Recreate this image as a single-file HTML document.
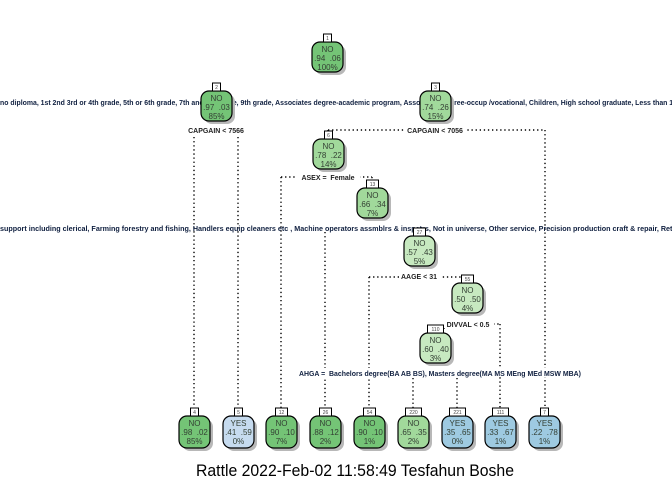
<!DOCTYPE html>
<html><head><meta charset="utf-8"><style>
html,body{margin:0;padding:0;background:#fff;}
svg{display:block;}
.n{font-family:"Liberation Sans",sans-serif;font-size:8px;fill:#333f33;text-anchor:middle;}
.t{font-family:"Liberation Sans",sans-serif;font-size:5px;fill:#444;text-anchor:middle;}
.s{font-family:"Liberation Sans",sans-serif;font-size:7px;font-weight:bold;fill:#102040;text-anchor:middle;}
.c{stroke:#000;stroke-width:1.4;stroke-dasharray:1.3,2.8;fill:none;}
.sh{fill:#b8b8b8;}
.b{stroke:#000;stroke-width:1.2;}
.tg{fill:#fff;stroke:#000;stroke-width:1;}
</style></head><body>
<svg width="672" height="480" viewBox="0 0 672 480" xmlns="http://www.w3.org/2000/svg">
<path class="c" d="M194 137V408 M238 137V408"/>
<path class="c" d="M328 130H545 M328 130V134 M545 130V408"/>
<path class="c" d="M281 177H372 M281 177V408 M372 177V181"/>
<path class="c" d="M325 232V408"/>
<path class="c" d="M369 277H468 M369 277V408 M468 277V279"/>
<path class="c" d="M444 324H500 M444 324V329 M500 324V408"/>
<path class="c" d="M413 378V408 M457 378V408"/>

<text class="s" x="0" y="105" style="text-anchor:start" textLength="700" lengthAdjust="spacingAndGlyphs">no diploma, 1st 2nd 3rd or 4th grade, 5th or 6th grade, 7th and 8th grade, 9th grade, Associates degree-academic program, Associates degree-occup /vocational, Children, High school graduate, Less than 1st grade</text>
<text class="s" x="216" y="133" style="fill:#222">CAPGAIN &lt; 7566</text>
<rect x="404" y="126" width="62" height="8" fill="#fff"/>
<text class="s" x="435" y="133" style="fill:#222">CAPGAIN &lt; 7056</text>
<rect x="296" y="173" width="64" height="8" fill="#fff"/>
<text class="s" x="328" y="180" style="fill:#222">ASEX =&#160; Female</text>
<text class="s" x="0" y="231" style="text-anchor:start" textLength="700" lengthAdjust="spacingAndGlyphs">support including clerical, Farming forestry and fishing, Handlers equip cleaners etc , Machine operators assmblrs &amp; inspctrs, Not in universe, Other service, Precision production craft &amp; repair, Retail trade</text>
<rect x="399" y="272" width="42" height="8" fill="#fff"/>
<text class="s" x="419" y="279" style="fill:#222">AAGE &lt; 31</text>
<rect x="442" y="320" width="52" height="8" fill="#fff"/>
<text class="s" x="468" y="327" style="fill:#222">DIVVAL &lt; 0.5</text>
<rect x="296" y="368" width="286" height="9" fill="#fff"/>
<text class="s" x="440" y="376" textLength="282" lengthAdjust="spacingAndGlyphs">AHGA =&#160; Bachelors degree(BA AB BS), Masters degree(MA MS MEng MEd MSW MBA)</text>

<g transform="translate(327,42)"><rect class="sh" x="-12" y="3" width="31" height="30" rx="8"/><rect class="b" x="-15" y="0" width="31" height="30" rx="8" fill="#74c476"/><rect class="tg" x="-3.5" y="-8" width="8" height="8"/><text class="t" x="0.5" y="-2">1</text><text class="n" x="0.5" y="10">NO</text><text class="n" x="0.5" y="19">.94&#160;&#160;.06</text><text class="n" x="0.5" y="28">100%</text></g>
<g transform="translate(216,91)"><rect class="sh" x="-12" y="3" width="31" height="30" rx="8"/><rect class="b" x="-15" y="0" width="31" height="30" rx="8" fill="#74c476"/><rect class="tg" x="-3.5" y="-8" width="8" height="8"/><text class="t" x="0.5" y="-2">2</text><text class="n" x="0.5" y="10">NO</text><text class="n" x="0.5" y="19">.97&#160;&#160;.03</text><text class="n" x="0.5" y="28">85%</text></g>
<g transform="translate(435,91)"><rect class="sh" x="-12" y="3" width="31" height="30" rx="8"/><rect class="b" x="-15" y="0" width="31" height="30" rx="8" fill="#a1d99b"/><rect class="tg" x="-3.5" y="-8" width="8" height="8"/><text class="t" x="0.5" y="-2">3</text><text class="n" x="0.5" y="10">NO</text><text class="n" x="0.5" y="19">.74&#160;&#160;.26</text><text class="n" x="0.5" y="28">15%</text></g>
<g transform="translate(328,139)"><rect class="sh" x="-12" y="3" width="31" height="30" rx="8"/><rect class="b" x="-15" y="0" width="31" height="30" rx="8" fill="#a1d99b"/><rect class="tg" x="-3.5" y="-8" width="8" height="8"/><text class="t" x="0.5" y="-2">6</text><text class="n" x="0.5" y="10">NO</text><text class="n" x="0.5" y="19">.78&#160;&#160;.22</text><text class="n" x="0.5" y="28">14%</text></g>
<g transform="translate(372,188)"><rect class="sh" x="-12" y="3" width="31" height="30" rx="8"/><rect class="b" x="-15" y="0" width="31" height="30" rx="8" fill="#a1d99b"/><rect class="tg" x="-5.5" y="-8" width="12" height="8"/><text class="t" x="0.5" y="-2">13</text><text class="n" x="0.5" y="10">NO</text><text class="n" x="0.5" y="19">.66&#160;&#160;.34</text><text class="n" x="0.5" y="28">7%</text></g>
<g transform="translate(419,236)"><rect class="sh" x="-12" y="3" width="31" height="30" rx="8"/><rect class="b" x="-15" y="0" width="31" height="30" rx="8" fill="#c7e9c0"/><rect class="tg" x="-5.5" y="-8" width="12" height="8"/><text class="t" x="0.5" y="-2">27</text><text class="n" x="0.5" y="10">NO</text><text class="n" x="0.5" y="19">.57&#160;&#160;.43</text><text class="n" x="0.5" y="28">5%</text></g>
<g transform="translate(467,283)"><rect class="sh" x="-12" y="3" width="31" height="30" rx="8"/><rect class="b" x="-15" y="0" width="31" height="30" rx="8" fill="#c7e9c0"/><rect class="tg" x="-5.5" y="-8" width="12" height="8"/><text class="t" x="0.5" y="-2">55</text><text class="n" x="0.5" y="10">NO</text><text class="n" x="0.5" y="19">.50&#160;&#160;.50</text><text class="n" x="0.5" y="28">4%</text></g>
<g transform="translate(435,333)"><rect class="sh" x="-12" y="3" width="31" height="30" rx="8"/><rect class="b" x="-15" y="0" width="31" height="30" rx="8" fill="#c7e9c0"/><rect class="tg" x="-7.5" y="-8" width="16" height="8"/><text class="t" x="0.5" y="-2">110</text><text class="n" x="0.5" y="10">NO</text><text class="n" x="0.5" y="19">.60&#160;&#160;.40</text><text class="n" x="0.5" y="28">3%</text></g>
<g transform="translate(194,416)"><rect class="sh" x="-12" y="3" width="31" height="32" rx="8"/><rect class="b" x="-15" y="0" width="31" height="32" rx="8" fill="#74c476"/><rect class="tg" x="-3.5" y="-8" width="8" height="8"/><text class="t" x="0.5" y="-2">4</text><text class="n" x="0.5" y="10">NO</text><text class="n" x="0.5" y="19">.98&#160;&#160;.02</text><text class="n" x="0.5" y="28">85%</text></g>
<g transform="translate(238,416)"><rect class="sh" x="-12" y="3" width="31" height="32" rx="8"/><rect class="b" x="-15" y="0" width="31" height="32" rx="8" fill="#c6dbef"/><rect class="tg" x="-3.5" y="-8" width="8" height="8"/><text class="t" x="0.5" y="-2">5</text><text class="n" x="0.5" y="10">YES</text><text class="n" x="0.5" y="19">.41&#160;&#160;.59</text><text class="n" x="0.5" y="28">0%</text></g>
<g transform="translate(281,416)"><rect class="sh" x="-12" y="3" width="31" height="32" rx="8"/><rect class="b" x="-15" y="0" width="31" height="32" rx="8" fill="#74c476"/><rect class="tg" x="-5.5" y="-8" width="12" height="8"/><text class="t" x="0.5" y="-2">12</text><text class="n" x="0.5" y="10">NO</text><text class="n" x="0.5" y="19">.90&#160;&#160;.10</text><text class="n" x="0.5" y="28">7%</text></g>
<g transform="translate(325,416)"><rect class="sh" x="-12" y="3" width="31" height="32" rx="8"/><rect class="b" x="-15" y="0" width="31" height="32" rx="8" fill="#74c476"/><rect class="tg" x="-5.5" y="-8" width="12" height="8"/><text class="t" x="0.5" y="-2">26</text><text class="n" x="0.5" y="10">NO</text><text class="n" x="0.5" y="19">.88&#160;&#160;.12</text><text class="n" x="0.5" y="28">2%</text></g>
<g transform="translate(369,416)"><rect class="sh" x="-12" y="3" width="31" height="32" rx="8"/><rect class="b" x="-15" y="0" width="31" height="32" rx="8" fill="#74c476"/><rect class="tg" x="-5.5" y="-8" width="12" height="8"/><text class="t" x="0.5" y="-2">54</text><text class="n" x="0.5" y="10">NO</text><text class="n" x="0.5" y="19">.90&#160;&#160;.10</text><text class="n" x="0.5" y="28">1%</text></g>
<g transform="translate(413,416)"><rect class="sh" x="-12" y="3" width="31" height="32" rx="8"/><rect class="b" x="-15" y="0" width="31" height="32" rx="8" fill="#a1d99b"/><rect class="tg" x="-7.5" y="-8" width="16" height="8"/><text class="t" x="0.5" y="-2">220</text><text class="n" x="0.5" y="10">NO</text><text class="n" x="0.5" y="19">.65&#160;&#160;.35</text><text class="n" x="0.5" y="28">2%</text></g>
<g transform="translate(457,416)"><rect class="sh" x="-12" y="3" width="31" height="32" rx="8"/><rect class="b" x="-15" y="0" width="31" height="32" rx="8" fill="#9ecae1"/><rect class="tg" x="-7.5" y="-8" width="16" height="8"/><text class="t" x="0.5" y="-2">221</text><text class="n" x="0.5" y="10">YES</text><text class="n" x="0.5" y="19">.35&#160;&#160;.65</text><text class="n" x="0.5" y="28">0%</text></g>
<g transform="translate(500,416)"><rect class="sh" x="-12" y="3" width="31" height="32" rx="8"/><rect class="b" x="-15" y="0" width="31" height="32" rx="8" fill="#9ecae1"/><rect class="tg" x="-7.5" y="-8" width="16" height="8"/><text class="t" x="0.5" y="-2">111</text><text class="n" x="0.5" y="10">YES</text><text class="n" x="0.5" y="19">.33&#160;&#160;.67</text><text class="n" x="0.5" y="28">1%</text></g>
<g transform="translate(544,416)"><rect class="sh" x="-12" y="3" width="31" height="32" rx="8"/><rect class="b" x="-15" y="0" width="31" height="32" rx="8" fill="#9ecae1"/><rect class="tg" x="-3.5" y="-8" width="8" height="8"/><text class="t" x="0.5" y="-2">7</text><text class="n" x="0.5" y="10">YES</text><text class="n" x="0.5" y="19">.22&#160;&#160;.78</text><text class="n" x="0.5" y="28">1%</text></g>

<text x="355" y="476" style="font-family:'Liberation Sans',sans-serif;font-size:17px;fill:#000;text-anchor:middle" textLength="318" lengthAdjust="spacingAndGlyphs">Rattle 2022-Feb-02 11:58:49 Tesfahun Boshe</text>
</svg>
</body></html>
